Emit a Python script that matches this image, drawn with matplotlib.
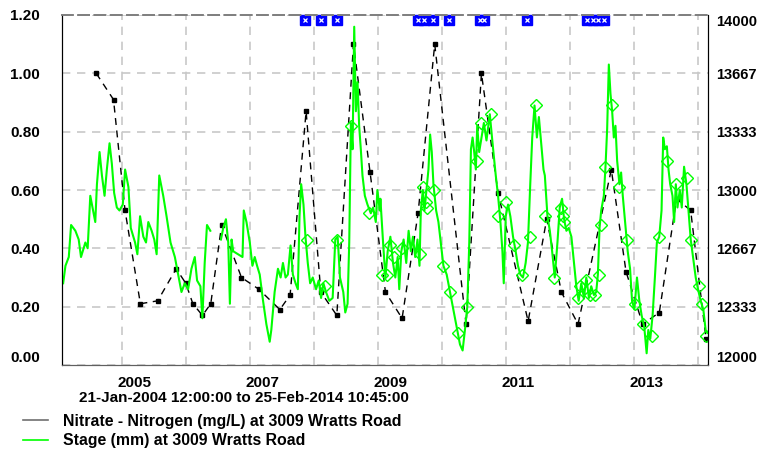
import numpy as np
import matplotlib
matplotlib.use('Agg')
from matplotlib import pyplot as plt
from matplotlib.lines import Line2D

plt.rcParams['font.family'] = ['Liberation Sans', 'DejaVu Sans']

# nitrate samples (decimal year, mg/L)
nitrate_year = [2004.59, 2004.86, 2005.04, 2005.28, 2005.55, 2005.84, 2005.99, 2006.10,
                2006.25, 2006.38, 2006.55, 2006.86, 2007.13, 2007.46, 2007.62, 2007.87,
                2008.10, 2008.35, 2008.61, 2008.87, 2009.11, 2009.37, 2009.62, 2009.88,
                2010.37, 2010.61, 2010.87, 2011.34, 2011.63, 2011.86, 2012.12, 2012.64,
                2012.87, 2013.13, 2013.39, 2013.66, 2013.88, 2014.12]
nitrate_val = [1.00, 0.91, 0.53, 0.21, 0.22, 0.33, 0.28, 0.21,
               0.17, 0.21, 0.48, 0.30, 0.26, 0.19, 0.24, 0.87,
               0.25, 0.17, 1.10, 0.66, 0.25, 0.16, 0.52, 1.10,
               0.14, 1.00, 0.59, 0.15, 0.50, 0.25, 0.14, 0.67,
               0.32, 0.14, 0.18, 0.57, 0.53, 0.09]

# stage record (decimal year, mm); nan = gap in record
stage_year = [2004.073, 2004.109, 2004.161, 2004.197, 2004.264, 2004.316, 2004.352, 2004.420,
              2004.456, 2004.497, 2004.523, 2004.575, 2004.601, 2004.642, 2004.679, 2004.720,
              2004.756, 2004.798, 2004.834, 2004.870, 2004.912, 2004.953, 2005.005, 2005.041,
              2005.093, 2005.130, 2005.197, 2005.233, 2005.275, 2005.326, 2005.368, 2005.404,
              2005.456, 2005.497, 2005.534, 2005.575, 2005.637, 2005.689, 2005.751, 2005.819,
              2005.870, 2005.922, 2005.974, 2006.026, 2006.078, 2006.130, 2006.166, 2006.218,
              2006.249, 2006.285, 2006.321, 2006.373, 2006.450, 2006.539, 2006.575, 2006.617,
              2006.653, 2006.679, 2006.705, 2006.731, 2006.876, 2006.896, 2006.938, 2006.990,
              2007.031, 2007.067, 2007.104, 2007.145, 2007.197, 2007.249, 2007.301, 2007.326,
              2007.378, 2007.430, 2007.472, 2007.508, 2007.549, 2007.585, 2007.627, 2007.663,
              2007.705, 2007.741, 2007.767, 2007.793, 2007.829, 2007.860, 2007.896, 2007.933,
              2007.974, 2008.026, 2008.067, 2008.104, 2008.140, 2008.181, 2008.233, 2008.285,
              2008.326, 2008.363, 2008.399, 2008.451, 2008.482, 2008.518, 2008.544, 2008.570,
              2008.596, 2008.622, 2008.648, 2008.674, 2008.699, 2008.725, 2008.751, 2008.788,
              2008.829, 2008.881, 2008.917, 2008.959, 2008.984, 2009.021, 2009.031, 2009.073,
              2009.109, 2009.145, 2009.187, 2009.228, 2009.264, 2009.301, 2009.326, 2009.358,
              2009.394, 2009.435, 2009.472, 2009.508, 2009.539, 2009.575, 2009.611, 2009.642,
              2009.663, 2009.694, 2009.720, 2009.756, 2009.782, 2009.808, 2009.834, 2009.860,
              2009.902, 2009.938, 2009.974, 2010.016, 2010.067, 2010.119, 2010.171, 2010.223,
              2010.275, 2010.316, 2010.352, 2010.389, 2010.420, 2010.446, 2010.472, 2010.497,
              2010.523, 2010.544, 2010.575, 2010.611, 2010.648, 2010.689, 2010.741, 2010.793,
              2010.834, 2010.870, 2010.907, 2010.938, 2010.959, 2010.990, 2011.026, 2011.062,
              2011.104, 2011.145, 2011.181, 2011.218, 2011.259, 2011.301, 2011.337, 2011.373,
              2011.404, 2011.440, 2011.477, 2011.508, 2011.544, 2011.580, 2011.601, 2011.642,
              2011.679, 2011.715, 2011.756, 2011.798, 2011.834, 2011.870, 2011.902, 2011.938,
              2011.974, 2012.016, 2012.057, 2012.093, 2012.130, 2012.171, 2012.212, 2012.249,
              2012.290, 2012.326, 2012.368, 2012.404, 2012.430, 2012.456, 2012.482, 2012.523,
              2012.549, 2012.575, 2012.601, 2012.627, 2012.653, 2012.679, 2012.705, 2012.731,
              2012.767, 2012.793, 2012.819, 2012.855, 2012.896, 2012.933, 2012.964, 2013.000,
              2013.041, 2013.078, 2013.114, 2013.155, 2013.192, 2013.218, 2013.249, 2013.285,
              2013.321, 2013.352, 2013.389, 2013.425, 2013.451, 2013.477, 2013.508, 2013.534,
              2013.560, 2013.596, 2013.622, 2013.648, 2013.674, 2013.710, 2013.741, 2013.777,
              2013.814, 2013.845, 2013.881, 2013.917, 2013.959, 2013.995, 2014.036, 2014.078,
              2014.114, 2014.140]
stage_mm = [12467, 12567, 12617, 12800, 12767, 12717, 12617, 12700,
            12667, 12967, 12917, 12817, 13033, 13217, 13083, 12967,
            13117, 13267, 13150, 12983, 12900, 12883, 12917, 13117,
            13017, 12783, 12700, 12633, 12850, 12733, 12700, 12817,
            12767, 12717, 12633, 13083, 12967, 12850, 12700, 12617,
            12517, 12417, 12467, 12433, 12550, 12617, 12483, 12450,
            12267, 12583, 12800, 12767, np.nan, 12717, 12783, 12833,
            12700, 12350, 12717, 12650, 12617, 12883, 12817, 12700,
            12567, 12617, 12567, 12517, 12367, 12233, 12133, 12200,
            12417, 12550, 12500, 12583, 12500, 12517, 12683, 12517,
            12467, 12433, 12850, 13033, 12917, 12733, 12583, 12467,
            12500, 12433, 12483, 12383, 12467, 12417, 12367, 12383,
            12717, 12733, 12500, 12417, 12300, 12350, 12700, 13383,
            13233, 13933, 13450, 13617, 13367, 13233, 13083, 12967,
            12917, 12867, 12900, 12817, 13000, 12883, 12950, 12700,
            12500, 12650, 12733, 12583, 12500, 12617, 12433, 12650,
            12717, 12583, 12767, 12650, 12733, 12617, 12717, 12567,
            12883, 13000, 12883, 13017, 13117, 13317, 13217, 13033,
            12883, 12817, 12700, 12567, 12517, 12417, 12317, 12217,
            12117, 12083, 12200, 12333, 12700, 13233, 13300, 13217,
            13117, 13367, 13217, 13300, 13383, 13283, 13433, 13233,
            13083, 12967, 12817, 12650, 12467, 12850, 12917, 12850,
            12733, 12650, 12567, 12517, 12500, 12583, 12700, 13033,
            13300, 13483, 13300, 13417, 13267, 13117, 13083, 12850,
            12767, 12650, 12500, 12700, 12900, 12950, 12833, 12767,
            12783, 12733, 12583, 12450, 12367, 12467, 12383, 12500,
            12383, 12450, 12400, 12417, 12517, 12783, 12883, 12967,
            13133, 13350, 13717, 13550, 13450, 13300, 13367, 13167,
            13033, 13100, 12967, 12817, 12650, 12550, 12367, 12317,
            12500, 12367, 12283, 12217, 12067, 12200, 12150, 12283,
            12500, 12700, 12733, 12883, 13300, 13233, 13250, 13117,
            13033, 12967, 12817, 13033, 12900, 13000, 12900, 13133,
            13033, 12883, 12717, 12617, 12500, 12433, 12367, 12317,
            12200, 12183]

# stage readings shown with diamonds
check_year = [2007.881, 2008.170, 2008.347, 2008.570, 2008.855, 2009.062, 2009.135, 2009.176,
              2009.249, 2009.368, 2009.653, 2009.694, 2009.746, 2009.756, 2009.876, 2010.005,
              2010.119, 2010.238, 2010.378, 2010.534, 2010.611, 2010.767, 2010.870, 2011.000,
              2011.119, 2011.249, 2011.363, 2011.466, 2011.596, 2011.746, 2011.860, 2011.886,
              2011.902, 2012.119, 2012.145, 2012.249, 2012.300, 2012.378, 2012.440, 2012.472,
              2012.534, 2012.653, 2012.767, 2012.886, 2013.010, 2013.140, 2013.269, 2013.389,
              2013.518, 2013.648, 2013.829, 2013.881, 2014.010, 2014.062, 2014.124]
check_mm = [12717, 12450, 12717, 13367, 12867, 12517, 12517, 12683,
            12617, 12667, 12633, 13017, 12933, 12900, 13000, 12567,
            12417, 12183, 12333, 13167, 13383, 13433, 12850, 12933,
            12683, 12517, 12733, 13483, 12850, 12500, 12900, 12850,
            12817, 12383, 12450, 12483, 12400, 12400, 12517, 12800,
            13133, 13483, 13017, 12717, 12350, 12233, 12167, 12733,
            13167, 13033, 13067, 12717, 12450, 12350, 12167]

# flagged samples along the top
flag_year = [2007.846, 2008.106, 2008.355, 2009.626, 2009.715, 2009.855, 2010.105,
             2010.583, 2010.650, 2011.324, 2012.259, 2012.347, 2012.430, 2012.519]

left_ticks = [0.0, 0.2, 0.4, 0.6, 0.8, 1.0, 1.2]
right_ticks = [12000, 12333, 12667, 13000, 13333, 13667, 14000]
year_labels = ['2005', '2007', '2009', '2011', '2013']

green = '#00ff00'

fig = plt.figure(figsize=(7.59, 4.5), dpi=100)
ax = fig.add_axes([62/759, 85/450, 646/759, 350/450])
ax2 = ax.twinx()

ax.plot(nitrate_year, nitrate_val, color='black', lw=1.0, ls=(0, (5, 4)),
        marker='s', ms=2.6, mfc='black', mec='black')
ax2.plot(stage_year, stage_mm, color=green, lw=1.5)
ax2.plot(check_year, check_mm, ls='none', marker='D', ms=6.5, mfc='none', mec=green, mew=1.0)

trans = ax.get_xaxis_transform()
ax.plot(flag_year, [0.986]*len(flag_year), ls='none', marker='s', ms=6.5,
        color='#0000ff', transform=trans, clip_on=False)
ax.plot(flag_year, [0.986]*len(flag_year), ls='none', marker='x', ms=3.5,
        color='white', mew=0.9, transform=trans, clip_on=False)

ax.set_xlim(2004.055, 2014.151)
ax.set_ylim(0, 1.2)
ax2.set_ylim(12000, 14000)

# gridlines on Jan 1 of each year, labels a little to the right
ax.set_xticks(np.arange(2005, 2015))
ax.set_xticklabels([])
ax.set_xticks([int(y) + 0.19 for y in year_labels], minor=True)
ax.set_xticklabels(year_labels, minor=True, fontsize=11, fontweight='bold')
ax.tick_params(axis='x', which='both', length=0, pad=8)

ax.set_yticks(left_ticks)
ax.set_yticklabels(['%.2f' % v for v in left_ticks], fontsize=11, fontweight='bold')
ax.tick_params(axis='y', length=0, pad=16)
ax2.set_yticks(right_ticks)
ax2.set_yticklabels([str(v) for v in right_ticks], fontsize=10.5, fontweight='bold')
ax2.tick_params(axis='y', length=0, pad=6)
ax.get_yticklabels()[0].set_va('bottom')
ax2.get_yticklabels()[0].set_va('bottom')
ax2.get_yticklabels()[-1].set_va('top')

ax.grid(True, which='major', color='#c8c8c8', ls=(0, (5, 4)), lw=1.2)

for a in (ax, ax2):
    a.spines['left'].set_color('black')
    a.spines['right'].set_color('black')
    a.spines['bottom'].set_color('#606060')
    a.spines['top'].set_color('#808080')
    a.spines['top'].set_linestyle((0, (6, 3)))
    a.spines['top'].set_linewidth(1.3)

fig.text(79/759, 1 - 398/450, '21-Jan-2004 12:00:00 to 25-Feb-2014 10:45:00',
         ha='left', va='center', fontsize=11, fontweight='bold')

handles = [Line2D([], [], color='#707070', lw=1.2),
           Line2D([], [], color=green, lw=1.2)]
labels = ['Nitrate - Nitrogen (mg/L) at 3009 Wratts Road',
          'Stage (mm) at 3009 Wratts Road']
fig.legend(handles, labels, loc='upper left', bbox_to_anchor=(23/759, 1 - 414/450),
           frameon=False, prop={'size': 11.4, 'weight': 'bold'}, handlelength=1.6,
           handletextpad=0.9, labelspacing=0.28, borderpad=0, borderaxespad=0)

fig.savefig('out.png', dpi=100)
